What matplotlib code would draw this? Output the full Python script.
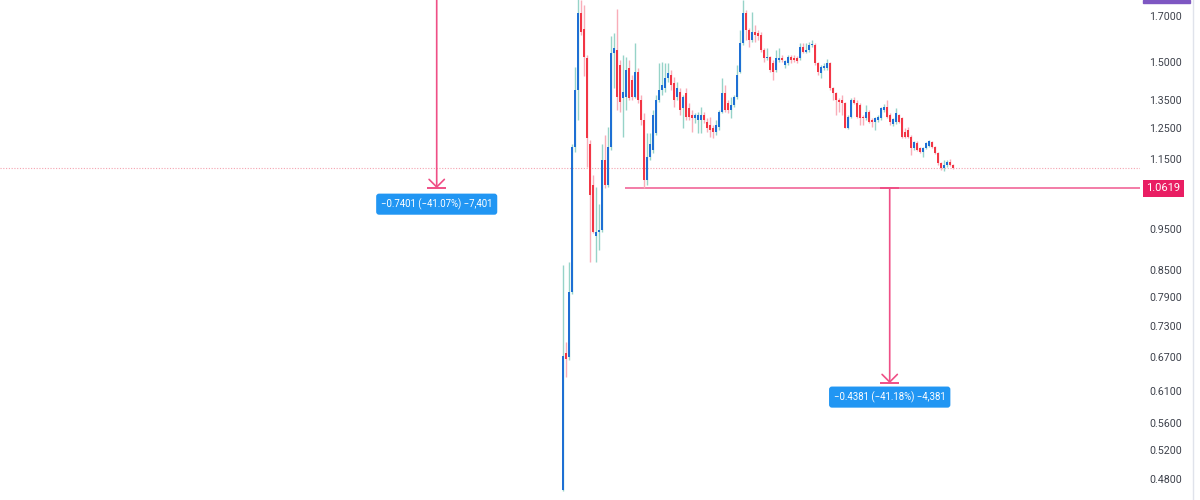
import matplotlib
matplotlib.use("Agg")
import matplotlib.pyplot as plt
from matplotlib.patches import Rectangle
from matplotlib.lines import Line2D
from matplotlib.ticker import NullLocator, NullFormatter
import numpy as np

# OHLC, one entry per candle
opens = [0.466, 0.678, 0.670, 0.800, 1.188, 1.388, 1.712, 1.638, 1.515, 1.197,
         1.072, 0.931, 0.943, 0.948, 1.147, 1.072, 1.188, 1.535, 1.548, 1.486,
         1.358, 1.362, 1.474, 1.427, 1.362, 1.458, 1.351, 1.279, 1.086, 1.156,
         1.179, 1.235, 1.351, 1.388, 1.396, 1.434, 1.446, 1.415, 1.362, 1.380,
         1.322, 1.377, 1.322, 1.297, 1.286, 1.279, 1.279, 1.297, 1.272, 1.262,
         1.252, 1.238, 1.255, 1.308, 1.377, 1.340, 1.315, 1.333, 1.362, 1.458,
         1.578, 1.712, 1.635, 1.591, 1.626, 1.622, 1.613, 1.548, 1.515, 1.519,
         1.494, 1.466, 1.507, 1.515, 1.486, 1.494, 1.519, 1.515, 1.515, 1.515,
         1.561, 1.540, 1.548, 1.570, 1.570, 1.494, 1.454, 1.474, 1.474, 1.494,
         1.396, 1.377, 1.351, 1.351, 1.340, 1.252, 1.290, 1.351, 1.340, 1.333,
         1.290, 1.286, 1.308, 1.279, 1.272, 1.279, 1.286, 1.315, 1.325, 1.297,
         1.265, 1.272, 1.297, 1.286, 1.238, 1.245, 1.221, 1.185, 1.201, 1.185,
         1.172, 1.185, 1.192, 1.204, 1.188, 1.169, 1.137, 1.122, 1.131, 1.140,
         1.131]
highs = [0.861, 0.698, 0.868, 1.197, 1.478, 1.790, 1.774, 1.750, 1.527, 1.211,
         1.101, 1.066, 1.017, 1.197, 1.228, 1.255, 1.608, 1.622, 1.732, 1.507,
         1.527, 1.519, 1.507, 1.446, 1.578, 1.474, 1.370, 1.304, 1.233, 1.233,
         1.315, 1.370, 1.494, 1.498, 1.494, 1.494, 1.466, 1.438, 1.419, 1.396,
         1.370, 1.396, 1.340, 1.315, 1.304, 1.308, 1.325, 1.308, 1.286, 1.290,
         1.262, 1.279, 1.315, 1.434, 1.407, 1.351, 1.362, 1.370, 1.486, 1.635,
         1.774, 1.727, 1.644, 1.715, 1.657, 1.635, 1.626, 1.557, 1.557, 1.523,
         1.507, 1.548, 1.557, 1.527, 1.507, 1.527, 1.527, 1.527, 1.523, 1.578,
         1.578, 1.578, 1.582, 1.591, 1.578, 1.498, 1.486, 1.494, 1.511, 1.498,
         1.400, 1.380, 1.358, 1.370, 1.343, 1.297, 1.358, 1.362, 1.351, 1.340,
         1.297, 1.333, 1.315, 1.286, 1.290, 1.297, 1.325, 1.336, 1.351, 1.304,
         1.286, 1.322, 1.300, 1.290, 1.252, 1.255, 1.228, 1.208, 1.208, 1.188,
         1.188, 1.204, 1.211, 1.208, 1.192, 1.172, 1.140, 1.147, 1.147, 1.150,
         1.134]
lows = [0.465, 0.634, 0.665, 0.796, 1.172, 1.279, 1.613, 1.441, 1.125, 0.868,
        0.939, 0.868, 0.897, 0.943, 1.063, 1.066, 1.179, 1.396, 1.315, 1.307,
        1.221, 1.315, 1.351, 1.351, 1.358, 1.340, 1.262, 1.062, 1.072, 1.147,
        1.169, 1.228, 1.343, 1.370, 1.380, 1.419, 1.388, 1.325, 1.351, 1.297,
        1.252, 1.279, 1.279, 1.238, 1.269, 1.235, 1.235, 1.269, 1.238, 1.221,
        1.218, 1.228, 1.245, 1.304, 1.308, 1.304, 1.286, 1.325, 1.355, 1.454,
        1.570, 1.591, 1.561, 1.582, 1.582, 1.591, 1.540, 1.498, 1.507, 1.458,
        1.427, 1.458, 1.498, 1.498, 1.474, 1.486, 1.494, 1.498, 1.494, 1.507,
        1.535, 1.535, 1.540, 1.561, 1.486, 1.446, 1.434, 1.466, 1.466, 1.388,
        1.351, 1.297, 1.308, 1.297, 1.250, 1.248, 1.286, 1.336, 1.286, 1.262,
        1.262, 1.279, 1.269, 1.255, 1.245, 1.272, 1.279, 1.308, 1.286, 1.262,
        1.258, 1.265, 1.269, 1.218, 1.218, 1.218, 1.163, 1.179, 1.175, 1.169,
        1.156, 1.182, 1.188, 1.185, 1.166, 1.131, 1.116, 1.113, 1.125, 1.128,
        1.119]
closes = [0.672, 0.666, 0.800, 1.188, 1.388, 1.712, 1.625, 1.519, 1.218, 1.043,
          0.943, 0.943, 0.948, 1.147, 1.072, 1.188, 1.535, 1.557, 1.362, 1.343,
          1.380, 1.466, 1.358, 1.362, 1.458, 1.351, 1.279, 1.086, 1.156, 1.197,
          1.297, 1.351, 1.388, 1.407, 1.434, 1.454, 1.407, 1.351, 1.396, 1.315,
          1.362, 1.290, 1.290, 1.286, 1.297, 1.297, 1.297, 1.279, 1.252, 1.245,
          1.238, 1.262, 1.308, 1.377, 1.315, 1.315, 1.333, 1.362, 1.446, 1.578,
          1.712, 1.635, 1.591, 1.626, 1.613, 1.609, 1.548, 1.515, 1.519, 1.466,
          1.458, 1.515, 1.515, 1.507, 1.502, 1.519, 1.507, 1.507, 1.502, 1.561,
          1.540, 1.548, 1.570, 1.574, 1.494, 1.458, 1.478, 1.482, 1.494, 1.396,
          1.377, 1.351, 1.343, 1.340, 1.252, 1.290, 1.351, 1.340, 1.290, 1.286,
          1.286, 1.308, 1.272, 1.272, 1.286, 1.290, 1.322, 1.325, 1.290, 1.272,
          1.283, 1.304, 1.272, 1.221, 1.221, 1.221, 1.185, 1.204, 1.179, 1.172,
          1.185, 1.201, 1.208, 1.188, 1.169, 1.137, 1.122, 1.131, 1.140, 1.131,
          1.122]

# 1.0500 sits under the level label in the reference, so it is left out
price_ticks = [1.70, 1.50, 1.35, 1.25, 1.15, 0.95, 0.85, 0.79, 0.73,
               0.67, 0.61, 0.56, 0.52, 0.48]
level_price = 1.0619
# price range tools: bar index, start price, end price, label
range_bars = [-42, 109]
range_starts = [1.8020, 1.0619]
range_ends = [1.0619, 0.6238]
range_labels = ["−0.7401 (−41.07%) −7,401", "−0.4381 (−41.18%) −4,381"]

UP, DOWN = "#1e6fd4", "#f23645"
UP_WICK, DOWN_WICK = "#96d3c8", "#f9adb8"
PINK = "#ef4f86"

plt.rcParams['font.family'] = ['Roboto', 'DejaVu Sans']

fig = plt.figure(figsize=(12, 5), dpi=100)
ax = fig.add_axes([0, 0, 1140 / 1200, 1])
ax.set_yscale('log')
ax.set_ylim(0.4536, 1.7744)
ax.set_xlim(-187.57, 192.43)

o, h, l, c = map(np.array, (opens, highs, lows, closes))
x = np.arange(len(o))
up = c >= o

ax.vlines(x[up], l[up], h[up], color=UP_WICK, lw=1, zorder=2)
ax.vlines(x[~up], l[~up], h[~up], color=DOWN_WICK, lw=1, zorder=2)
ax.bar(x[up], (c - o)[up], bottom=o[up], width=0.72, color=UP, linewidth=0, zorder=3)
ax.bar(x[~up], (o - c)[~up], bottom=c[~up], width=0.72, color=DOWN, linewidth=0, zorder=3)

# last price dotted line and the level line
ax.axhline(closes[-1], color="#f5a3b0", lw=0.8, ls=(0, (1, 1.5)), zorder=1)
ax.hlines(level_price, 20.8, 192.43, color="#f0598f", lw=1.1, zorder=1)

# price range tools
for xi, p0, p1, txt in zip(range_bars, range_starts, range_ends, range_labels):
    ax.annotate('', xy=(xi, p1), xytext=(xi, p0),
                arrowprops=dict(arrowstyle='->,head_length=0.55,head_width=0.55',
                                color=PINK, lw=1.2, shrinkA=0, shrinkB=0),
                annotation_clip=False, zorder=4)
    ax.hlines([p0, p1], xi - 3.2, xi + 3.2, color=PINK, lw=1.4, zorder=4)
    off = -11.5 if p0 > 1.5 else -10
    ax.annotate(txt, xy=(xi, p1), xytext=(0, off), textcoords='offset points',
                ha='center', va='center', fontsize=6.9, color='white', zorder=5,
                bbox=dict(boxstyle='round,pad=0.5,rounding_size=0.3',
                          fc='#2196f3', ec='none'))

# right price scale
ax.yaxis.tick_right()
ax.yaxis.set_minor_locator(NullLocator())
ax.yaxis.set_minor_formatter(NullFormatter())
ax.set_yticks(price_ticks)
ax.set_yticklabels([f"{t:.4f}" for t in price_ticks])
ax.tick_params(axis='y', length=0, pad=6.5, labelsize=7.7, labelcolor='#3d414b')
ax.set_xticks([])
for s in ax.spines.values():
    s.set_visible(False)

ax.annotate(f"{level_price:.4f}", xy=(1, level_price),
            xycoords=('axes fraction', 'data'), xytext=(4.6, 0),
            textcoords='offset points', ha='left', va='center', fontsize=8,
            color='white', annotation_clip=False, zorder=6,
            bbox=dict(boxstyle='square,pad=0.3', fc='#e91e63', ec='none'))

fig.patches.append(Rectangle((1143 / 1200, 497 / 500), 47 / 1200, 3 / 500,
                             transform=fig.transFigure, color='#7e57c2'))
fig.add_artist(Line2D([1193 / 1200] * 2, [0, 1], transform=fig.transFigure,
                      color='#e0e3eb', lw=1))

fig.savefig("out.png", dpi=100)
